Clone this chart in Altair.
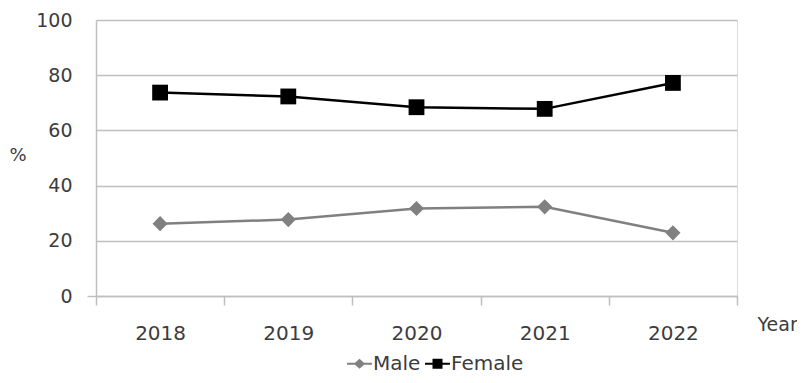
import altair as alt
import pandas as pd

years = [2018, 2019, 2020, 2021, 2022]
male = [26.2, 27.7, 31.7, 32.3, 22.9]
female = [73.7, 72.3, 68.4, 67.8, 77.2]
series = ["Male", "Female"]
colors = ["#808080", "#000000"]
legend_shapes = [
    "M-1,-0.08L-0.36,-0.08L0,-0.4L0.36,-0.08L1,-0.08L1,0.08L0.36,0.08L0,0.4L-0.36,0.08L-1,0.08Z",
    "M-1,-0.08L-0.4,-0.08L-0.4,-0.4L0.4,-0.4L0.4,-0.08L1,-0.08L1,0.08L0.4,0.08L0.4,0.4L-0.4,0.4L-0.4,0.08L-1,0.08Z",
]
y_ticks = [0, 20, 40, 60, 80, 100]
x_ticks = [2017.5, 2018, 2018.5, 2019, 2019.5, 2020, 2020.5, 2021, 2021.5, 2022, 2022.5]

rows = []
for yr, m, f in zip(years, male, female):
    rows.append({"year": yr, "value": m, "series": "Male"})
    rows.append({"year": yr, "value": f, "series": "Female"})
df = pd.DataFrame(rows)

FONT = "DejaVu Sans"
TXT = "#3c3c3c"
GRID = "#bfbfbf"

x = alt.X(
    "year:Q",
    scale=alt.Scale(domain=[2017.5, 2022.5], nice=False, zero=False),
    axis=alt.Axis(
        values=x_ticks,
        labelExpr="datum.value % 1 === 0 ? '' + datum.value : ''",
        tickOpacity={"condition": {"test": "datum.value % 1 === 0", "value": 0}, "value": 1},
        tickSize=9,
        tickWidth=1.5,
        tickColor=GRID,
        domainColor=GRID,
        domainWidth=1.5,
        grid=False,
        labelFlush=False,
        labelOverlap=False,
        labelBaseline="top",
        labelPadding=18,
        labelFont=FONT,
        labelFontSize=20,
        labelColor=TXT,
        title="Year",
        titleFont=FONT,
        titleFontSize=19,
        titleFontWeight="normal",
        titleColor=TXT,
        titleX=661,
        titleY=28,
        titleAlign="left",
        titleBaseline="middle",
    ),
)
y = alt.Y(
    "value:Q",
    scale=alt.Scale(domain=[0, 100], nice=False),
    axis=alt.Axis(
        values=y_ticks,
        grid=True,
        gridColor=GRID,
        gridWidth=1.5,
        domainColor=GRID,
        domainWidth=1.5,
        tickOpacity={"condition": {"test": "datum.value === 0", "value": 1}, "value": 0},
        tickSize=9,
        tickWidth=1.5,
        tickColor=GRID,
        labelPadding=15,
        labelFont=FONT,
        labelFontSize=19,
        labelColor=TXT,
        title="%",
        titleAngle=0,
        titleFont=FONT,
        titleFontSize=18,
        titleFontWeight="normal",
        titleColor=TXT,
        titleX=-87,
        titleY=135,
        titleAlign="left",
        titleBaseline="middle",
    ),
)

base = alt.Chart(df)
male_line = base.transform_filter("datum.series === 'Male'").mark_line(
    color=colors[0], strokeWidth=2.5).encode(x=x, y=y)
female_line = base.transform_filter("datum.series === 'Female'").mark_line(
    color=colors[1], strokeWidth=2.5).encode(x=x, y=y)
male_pts = base.transform_filter("datum.series === 'Male'").mark_point(
    shape="diamond", size=230, filled=True, opacity=1, color=colors[0]).encode(x=x, y=y)
female_pts = base.transform_filter("datum.series === 'Female'").mark_point(
    shape="square", size=250, filled=True, opacity=1, color=colors[1]).encode(x=x, y=y)

leg = alt.Legend(
    orient="none", legendX=251, legendY=331, direction="horizontal", title=None,
    symbolSize=625, symbolStrokeWidth=0, symbolOpacity=1, labelFont=FONT,
    labelFontSize=20, labelColor=TXT, labelOffset=1, columnPadding=4, padding=0,
)
legend_layer = base.transform_filter("false").mark_point(filled=True, opacity=1).encode(
    x=x, y=y,
    color=alt.Color("series:N", scale=alt.Scale(domain=series, range=colors), legend=leg),
    shape=alt.Shape("series:N", scale=alt.Scale(domain=series, range=legend_shapes), legend=leg),
)

chart = alt.layer(male_line, female_line, male_pts, female_pts, legend_layer).properties(
    width=641, height=276,
    autosize=alt.AutoSizeParams(type="none"),
    padding={"left": 88, "top": 12, "right": 60, "bottom": 79},
).configure_view(stroke=None).configure(background="white")

chart.save("out.html", embed_options={"renderer": "svg", "actions": False})
